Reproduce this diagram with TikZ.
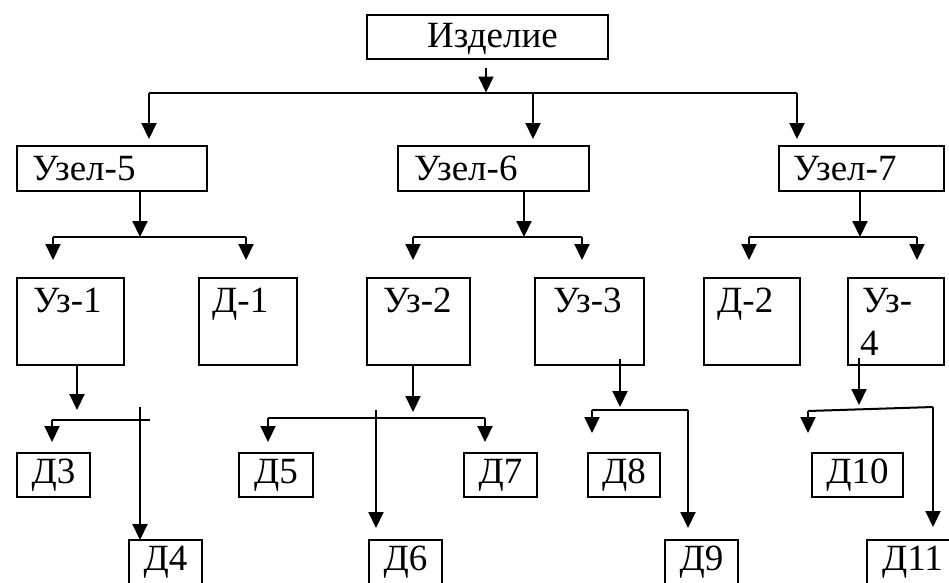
\documentclass[tikz,border=0pt]{standalone}
\usepackage{fontspec}
\setmainfont{Liberation Serif}
\usetikzlibrary{arrows.meta}
\tikzset{
  box/.style={draw, line width=2pt, inner sep=0pt, anchor=north west},
  sbox/.style={box, minimum height=44pt, font=\fontsize{37}{43}\selectfont},
  txt/.style={inner sep=0pt, anchor=base west, font=\fontsize{37}{43}\selectfont},
  ln/.style={line width=2pt},
  arr/.style={line width=2pt, -{Triangle[length=16pt,width=15pt]}},
}
\begin{document}
\begin{tikzpicture}[x=1pt,y=-1pt]
\useasboundingbox (0,0) rectangle (949,582);
\clip (0,0) rectangle (949,582);

% top
\node[box, minimum width=241pt, minimum height=44pt] (izd) at (366,14) {};
\node[txt] (tizd) at ([shift={(61,33)}]izd.north west) {Изделие};

% level 1
\node[box, minimum width=190pt, minimum height=45pt] (u5) at (16,145) {};
\node[box, minimum width=191pt, minimum height=45pt] (u6) at (397,145) {};
\node[box, minimum width=165pt, minimum height=45pt] (u7) at (778,145) {};
\node[txt] (tu5) at ([shift={(16,35)}]u5.north west) {Узел-5};
\node[txt] (tu6) at ([shift={(17,35)}]u6.north west) {Узел-6};
\node[txt] (tu7) at ([shift={(15,35)}]u7.north west) {Узел-7};

% level 2
\node[box, minimum width=107pt, minimum height=87pt] (uz1) at (16,277) {};
\node[box, minimum width=98pt, minimum height=87pt] (d1) at (198,277) {};
\node[box, minimum width=103pt, minimum height=87pt] (uz2) at (366,277) {};
\node[box, minimum width=109pt, minimum height=87pt] (uz3) at (534,277) {};
\node[box, minimum width=96pt, minimum height=87pt] (d2) at (703,277) {};
\node[box, minimum width=96pt, minimum height=87pt] (uz4) at (847,277) {};
\node[txt] (tuz1) at ([shift={(17,35)}]uz1.north west) {Уз-1};
\node[txt] (td1) at ([shift={(14,35)}]d1.north west) {Д-1};
\node[txt] (tuz2) at ([shift={(17,35)}]uz2.north west) {Уз-2};
\node[txt] (tuz3) at ([shift={(19,35)}]uz3.north west) {Уз-3};
\node[txt] (td2) at ([shift={(14,35)}]d2.north west) {Д-2};
\node[txt] (tuz4a) at ([shift={(15,35)}]uz4.north west) {Уз-};
\node[txt] (tuz4b) at ([shift={(13,78)}]uz4.north west) {4};

% level 3
\node[sbox, minimum width=73pt] (d3) at (16,452) {Д3};
\node[sbox, minimum width=73pt] (d4) at (128,539) {Д4};
\node[sbox, minimum width=74pt] (d5) at (238,452) {Д5};
\node[sbox, minimum width=73pt] (d6) at (368,539) {Д6};
\node[sbox, minimum width=73pt] (d7) at (463,452) {Д7};
\node[sbox, minimum width=72pt] (d8) at (587,452) {Д8};
\node[sbox, minimum width=73pt] (d9) at (664,539) {Д9};
\node[sbox, minimum width=91pt] (d10) at (811,452) {Д10};
\node[sbox, minimum width=91pt] (d11) at (866,539) {Д11};

% connectors: top
\coordinate (iz0) at (486,68);
\coordinate (b0) at (486,92.5);
\draw[arr] (iz0) -- (b0);
\draw[ln] (149,92.5) -- (797,92.5);
\draw[arr] (149,92.5) -- (149,139);
\draw[arr] (533,92.5) -- (533,139);
\draw[arr] (797,92.5) -- (797,139);

% Узел-5
\draw[arr] (140,190) -- (140,237);
\draw[ln] (53,237) -- (246,237);
\draw[arr] (53,237) -- (53,260);
\draw[arr] (246,237) -- (246,260);
% Узел-6
\draw[arr] (524,190) -- (524,237);
\draw[ln] (413,237) -- (582,237);
\draw[arr] (413,237) -- (413,260);
\draw[arr] (582,237) -- (582,260);
% Узел-7
\draw[arr] (860,190) -- (860,237);
\draw[ln] (749,237) -- (917,237);
\draw[arr] (749,237) -- (749,260);
\draw[arr] (917,237) -- (917,260);

% Уз-1
\draw[arr] (77,364) -- (77,410);
\draw[ln] (52,420) -- (150,420);
\draw[arr] (52,420) -- (52,442);
\draw[arr] (140,407) -- (140,540);
% Уз-2
\draw[arr] (413,364) -- (413,412);
\draw[ln] (268,418) -- (485,418);
\draw[arr] (268,418) -- (268,442);
\draw[arr] (485,418) -- (485,442);
\draw[arr] (376,410) -- (376,528);
% Уз-3
\draw[arr] (620,359) -- (620,407);
\draw[ln] (592,410) -- (688,410);
\draw[arr] (592,410) -- (592,433);
\draw[arr] (688,410) -- (688,528);
% Уз-4
\draw[arr] (859,358) -- (859,405);
\draw[ln] (808,411) -- (933,407);
\draw[arr] (808,411) -- (808,433);
\draw[arr] (933,407) -- (933,527);
\end{tikzpicture}
\end{document}
